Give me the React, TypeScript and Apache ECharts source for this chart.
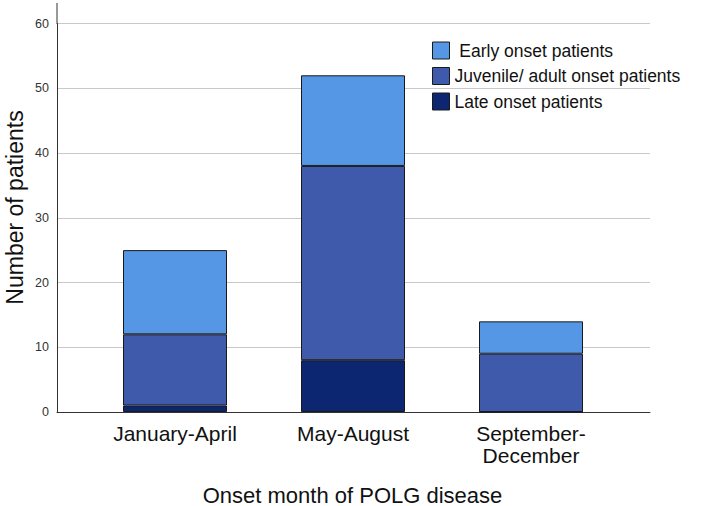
import React, { useEffect, useRef } from "react";
import * as echarts from "echarts";

const categories = ["January-April", "May-August", "September-\nDecember"];
const seriesNames = ["Early onset patients", "Juvenile/ adult onset patients", "Late onset patients"];
const lateOnset = [1, 8, 0];
const juvenileAdultOnset = [11, 30, 9];
const earlyOnset = [13, 14, 5];
const yTicks = { min: 0, max: 60, interval: 10 };

const FONT = "'Liberation Sans', Arial, sans-serif";
const COLORS = { early: "#5597E5", juvenile: "#3F5AAB", late: "#0C2672" };

export default function App() {
  const ref = useRef<HTMLDivElement>(null);
  useEffect(() => {
    if (!ref.current) return;
    const chart = echarts.init(ref.current, undefined, { renderer: "svg" });
    const barStyle = (c: string) => ({ color: c, borderColor: "#1a1a1a", borderWidth: 1 });
    chart.setOption({
      animation: false,
      backgroundColor: "#ffffff",
      textStyle: { fontFamily: FONT },
      grid: [
        { left: 57, right: 59, top: 23.5, bottom: 94 },
        { left: 86, right: 89, top: 23.5, bottom: 94 },
      ],
      xAxis: [
        {
          gridIndex: 0,
          type: "category",
          data: [""],
          axisLine: { show: true, lineStyle: { color: "#333", width: 1 } },
          axisTick: { show: false },
          axisLabel: { show: false },
        },
        {
          gridIndex: 1,
          type: "category",
          data: categories,
          axisLine: { show: false },
          axisTick: { show: false },
          axisLabel: {
            color: "#111",
            fontSize: 21,
            lineHeight: 22,
            margin: 10,
            fontFamily: FONT,
          },
        },
      ],
      yAxis: [
        {
          gridIndex: 0,
          type: "value",
          min: yTicks.min,
          max: yTicks.max,
          interval: yTicks.interval,
          axisLine: { show: true, lineStyle: { color: "#333", width: 1 } },
          axisTick: { show: false },
          axisLabel: { color: "#333", fontSize: 12.5, margin: 8, fontFamily: FONT },
          splitLine: { show: true, lineStyle: { color: "#C8C8C8", width: 1 } },
        },
        {
          gridIndex: 1,
          type: "value",
          min: yTicks.min,
          max: yTicks.max,
          interval: yTicks.interval,
          show: false,
          splitLine: { show: false },
        },
      ],
      legend: {
        orient: "vertical",
        left: 427,
        top: 36.5,
        itemWidth: 17,
        itemHeight: 17,
        itemGap: 7.5,
        data: seriesNames,
        icon: "rect",
        itemStyle: { borderColor: "#1a1a1a", borderWidth: 1 },
        formatter: (n: string) => (n === seriesNames[0] ? " " + n : n),
        textStyle: { color: "#111", fontSize: 17.5, fontFamily: FONT },
      },
      series: [
        {
          name: seriesNames[2],
          type: "bar",
          stack: "total",
          xAxisIndex: 1,
          yAxisIndex: 1,
          barWidth: 104,
          data: lateOnset,
          itemStyle: barStyle(COLORS.late),
        },
        {
          name: seriesNames[1],
          type: "bar",
          stack: "total",
          xAxisIndex: 1,
          yAxisIndex: 1,
          barWidth: 104,
          data: juvenileAdultOnset,
          itemStyle: barStyle(COLORS.juvenile),
        },
        {
          name: seriesNames[0],
          type: "bar",
          stack: "total",
          xAxisIndex: 1,
          yAxisIndex: 1,
          barWidth: 104,
          data: earlyOnset,
          itemStyle: barStyle(COLORS.early),
        },
      ],
      graphic: [
        {
          type: "line",
          shape: { x1: 57, y1: 3, x2: 57, y2: 24 },
          style: { stroke: "#333", lineWidth: 1 },
          silent: true,
        },
        {
          type: "text",
          x: 15,
          y: 207.5,
          rotation: Math.PI / 2,
          style: {
            text: "Number of patients",
            fontSize: 23,
            fontFamily: FONT,
            fill: "#111",
            align: "center",
            verticalAlign: "middle",
          },
        },
        {
          type: "text",
          x: 352.5,
          y: 495,
          style: {
            text: "Onset month of POLG disease",
            fontSize: 22,
            fontFamily: FONT,
            fill: "#111",
            align: "center",
            verticalAlign: "middle",
          },
        },
      ],
    });
    return () => chart.dispose();
  }, []);
  return (
    <div
      ref={ref}
      style={{ width: 709, height: 506, position: "absolute", left: 0, top: 0 }}
    />
  );
}
